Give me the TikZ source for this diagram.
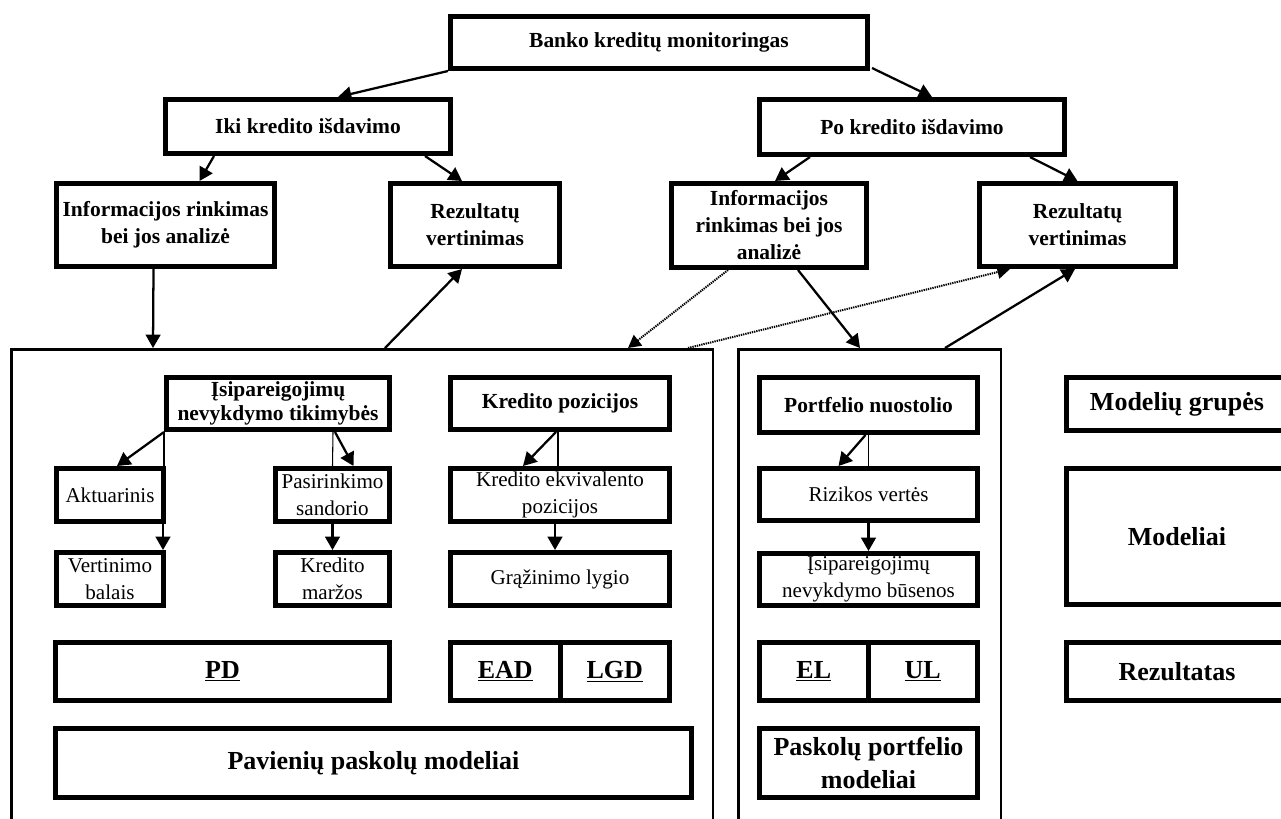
\documentclass[tikz,border=0pt]{standalone}
\usepackage{fontspec}
\setmainfont{Liberation Serif}
\usetikzlibrary{arrows.meta,calc}
% name, x1, y1, x2, y2, line width (px), style, text
\newcommand\bx[8]{%
  \node[#7, line width={#6*0.75pt}, minimum width={(#4-#2-#6)*0.75pt}, minimum height={(#5-#3-#6)*0.75pt}] (#1) at ({(#2+#4)/2},{(#3+#5)/2}) {#8};}
\begin{document}
\begin{tikzpicture}[x=0.75pt,y=-0.75pt,
  base/.style={draw, inner sep=0pt, align=center, font=\bfseries\fontsize{16.1}{20.25}\selectfont},
  tight/.style={base, font=\bfseries\fontsize{16.1}{17.5}\selectfont},
  reg/.style={base, font=\mdseries\fontsize{15.8}{20}\selectfont},
  big/.style={base, font=\bfseries\fontsize{19.5}{24.75}\selectfont},
  cont/.style={draw, inner sep=0pt},
  arr/.style={-{Triangle[length=10pt,width=11pt]}, line width=1.7pt},
  dotarr/.style={-{Triangle[length=9.5pt,width=10pt]}, line width=1.5pt, dash pattern=on 1pt off 0.7pt},
  thinl/.style={line width=0.8pt}]
\path[use as bounding box] (0,0) rectangle (1281,818);
\clip (0,0) rectangle (1281,818);
\fill[white] (0,0) rectangle (1281,818);

% top levels
\bx{top}{448}{14}{870}{71}{5}{base}{Banko kreditų monitoringas}
\bx{iki}{163}{97}{453}{156}{5}{base}{Iki kredito išdavimo}
\bx{po}{757}{97}{1067}{157}{5}{base}{Po kredito išdavimo}
\bx{linfo}{54}{181}{277}{269}{5}{base}{Informacijos rinkimas\\bei jos analizė}
\bx{lrez}{388}{181}{562}{269}{5}{base}{Rezultatų\\vertinimas}
\bx{rinfo}{669}{181}{869}{270}{5}{base}{Informacijos\\rinkimas bei jos\\analizė}
\bx{rrez}{977}{181}{1178}{269}{5}{base}{Rezultatų\\vertinimas}

% containers
\bx{lbig}{10}{348}{714}{850}{2.5}{cont}{}
\bx{rbig}{737}{348}{1002}{850}{2.5}{cont}{}

% left container content
\bx{isip}{164}{375}{392}{432}{5}{tight}{Įsipareigojimų\\nevykdymo tikimybės}
\bx{kpoz}{448}{375}{672}{432}{5}{base}{Kredito pozicijos}
\bx{akt}{54}{466}{166}{524}{5}{reg}{Aktuarinis}
\bx{pas}{273}{466}{392}{524}{5}{reg}{Pasirinkimo\\sandorio}
\bx{kekv}{448}{466}{672}{524}{5}{reg}{Kredito ekvivalento\\pozicijos}
\bx{vert}{54}{550}{166}{608}{5}{reg}{Vertinimo\\balais}
\bx{marz}{273}{550}{392}{608}{5}{reg}{Kredito\\maržos}
\bx{graz}{448}{550}{672}{608}{5}{reg}{Grąžinimo lygio}
\bx{pd}{53}{640}{392}{703}{5}{big}{\underline{PD}}
\bx{ead}{448}{640}{562.5}{703}{5}{big}{\underline{EAD}}
\bx{lgd}{557.5}{640}{672}{703}{5}{big}{\underline{LGD}}
\bx{pav}{53}{726}{694}{800}{5}{big}{Pavienių paskolų modeliai}

% right container content
\bx{port}{757}{375}{980}{435}{5}{base}{Portfelio nuostolio}
\bx{riz}{757}{466}{980}{523}{5}{reg}{Rizikos vertės}
\bx{bus}{757}{551}{980}{608}{5}{reg}{Įsipareigojimų\\nevykdymo būsenos}
\bx{el}{757}{640}{870.5}{703}{5}{big}{\underline{EL}}
\bx{ul}{865.5}{640}{980}{703}{5}{big}{\underline{UL}}
\bx{ppm}{757}{726}{980}{800}{5}{big}{Paskolų portfelio\\modeliai}

% legend
\bx{mg}{1064}{375}{1290}{433}{5}{big}{Modelių grupės}
\bx{mod}{1064}{466}{1290}{607}{5}{big}{Modeliai}
\bx{rez}{1064}{640}{1290}{703}{5}{big}{Rezultatas}

% upper connectors
\draw[arr] (top.south west) -- ($(iki.north)+(30,0)$);
\draw[arr] ($(top.south east)+(2,-3)$) -- ($(po.north)+(20,0)$);
\draw[arr] ($(iki.south west)+(51,0)$) -- ($(linfo.north)+(34,0)$);
\draw[arr] ($(iki.south east)+(-28,0)$) -- ($(lrez.north)+(-13,0)$);
\draw[arr] ($(po.south west)+(53,0)$) -- ($(rinfo.north)+(6,0)$);
\draw[arr] ($(po.south east)+(-37,0)$) -- (rrez.north);
\draw[arr] ($(linfo.south)+(-12,0)$) -- ($(lbig.north west)+(143,0)$);
\draw[arr] ($(lbig.north west)+(375,0)$) -- ($(lrez.south)+(-13,0)$);
\draw[dotarr] ($(rinfo.south)+(-41,0)$) -- ($(lbig.north west)+(618,0)$);
\draw[arr] ($(rinfo.south)+(29,0)$) -- ($(rbig.north west)+(123,0)$);
\draw[dotarr] ($(lbig.north west)+(678,0)$) -- ($(rrez.south west)+(33,0)$);
\draw[arr] ($(rbig.north west)+(208,0)$) -- ($(rrez.south west)+(98,0)$);

% inner connectors
\draw[arr] (isip.south west) -- ($(akt.north)+(7,0)$);
\draw[thinl] (isip.south west) -- ($(akt.north east)+(-2,0)$);
\draw[arr] ($(akt.south east)+(-3,0)$) -- ($(vert.north east)+(-3,0)$);
\draw[arr] ($(isip.south)+(57,0)$) -- ($(pas.north)+(21,0)$);
\draw[thinl] ($(isip.south)+(55,0)$) -- (pas.north);
\draw[arr] (pas.south) -- (marz.north);
\draw[arr] ($(kpoz.south)+(-4,0)$) -- ($(kekv.north)+(-37,0)$);
\draw[thinl] ($(kpoz.south)+(-2,0)$) -- ($(kekv.north)+(-2,0)$);
\draw[arr] ($(kekv.south)+(-5,0)$) -- ($(graz.north)+(-5,0)$);
\draw[arr] ($(port.south)+(-3,0)$) -- ($(riz.north)+(-30,0)$);
\draw[thinl] (port.south) -- (riz.north);
\draw[arr] (riz.south) -- (bus.north);
\end{tikzpicture}
\end{document}
